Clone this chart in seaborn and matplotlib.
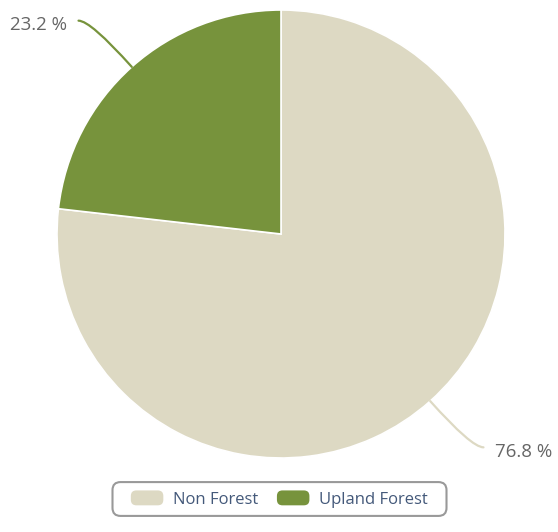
import numpy as np
import matplotlib
matplotlib.use("Agg")
import matplotlib.pyplot as plt
import seaborn as sns
from matplotlib.patches import FancyBboxPatch
from matplotlib.legend_handler import HandlerPatch

categories = ["Non Forest", "Upland Forest"]
values = [76.8, 23.2]
labels = ["76.8 %", "23.2 %"]
colors = ["#DDD9C3", "#77933C"]

sns.set_theme(style="white")
plt.rcParams["font.family"] = ["Open Sans", "DejaVu Sans"]

W, H = 558, 532
fig = plt.figure(figsize=(W / 100, H / 100), dpi=100)
ax = fig.add_axes([0, 0, 1, 1])

cx, cy, R = 281, H - 234, 224
wedges, _ = ax.pie(values, colors=colors, startangle=90, counterclock=False,
                   center=(cx, cy), radius=R, frame=True,
                   wedgeprops=dict(edgecolor="white", linewidth=1.2))
ax.set_xlim(0, W)
ax.set_ylim(0, H)
ax.set_aspect("equal")
ax.axis("off")

for w, lab, col in zip(wedges, labels, colors):
    ang = np.deg2rad((w.theta1 + w.theta2) / 2)
    ex, ey = cx + R * np.cos(ang), cy + R * np.sin(ang)
    right = np.cos(ang) > 0
    sgn = 1 if right else -1
    tx, ty = ex + 62 * np.cos(ang) + sgn * 12, ey + 62 * np.sin(ang)
    ax.annotate("", xy=(ex, ey), xytext=(tx, ty),
                arrowprops=dict(arrowstyle="-", color=col, lw=1.6,
                                shrinkA=0, shrinkB=0,
                                connectionstyle=f"angle3,angleA=0,angleB={np.rad2deg(ang):.1f}"))
    ax.text(tx + sgn * 12, ty - 4.5, lab, ha="left" if right else "right",
            va="center", fontsize=13.5, color="#666666")


class RoundHandler(HandlerPatch):
    def create_artists(self, legend, orig_handle, xdescent, ydescent, width, height, fontsize, trans):
        p = FancyBboxPatch((-xdescent, -ydescent), width, height,
                           boxstyle="round,pad=0,rounding_size=4",
                           facecolor=orig_handle.get_facecolor(), edgecolor="none",
                           transform=trans)
        return [p]


leg = fig.legend(wedges, categories, loc="center",
                 bbox_to_anchor=(279.5 / W, 1 - 499 / H), ncol=2,
                 frameon=False, fontsize=12,
                 handlelength=1.95, handleheight=1.0, handletextpad=0.6,
                 columnspacing=1.1, borderpad=0.5, labelcolor="#44597A",
                 handler_map={matplotlib.patches.Wedge: RoundHandler()})

fig.canvas.draw()
bb = leg.get_window_extent()
x0, x1 = bb.x0 - 10, bb.x1 + 10
y0, y1 = bb.y0, bb.y1
box = FancyBboxPatch((x0, y0), x1 - x0, y1 - y0,
                     boxstyle="round,pad=0,rounding_size=8",
                     facecolor="white", edgecolor="#999999", linewidth=1.5,
                     transform=None, zorder=0)
fig.patches.append(box)

fig.savefig("out.png", dpi=100)
